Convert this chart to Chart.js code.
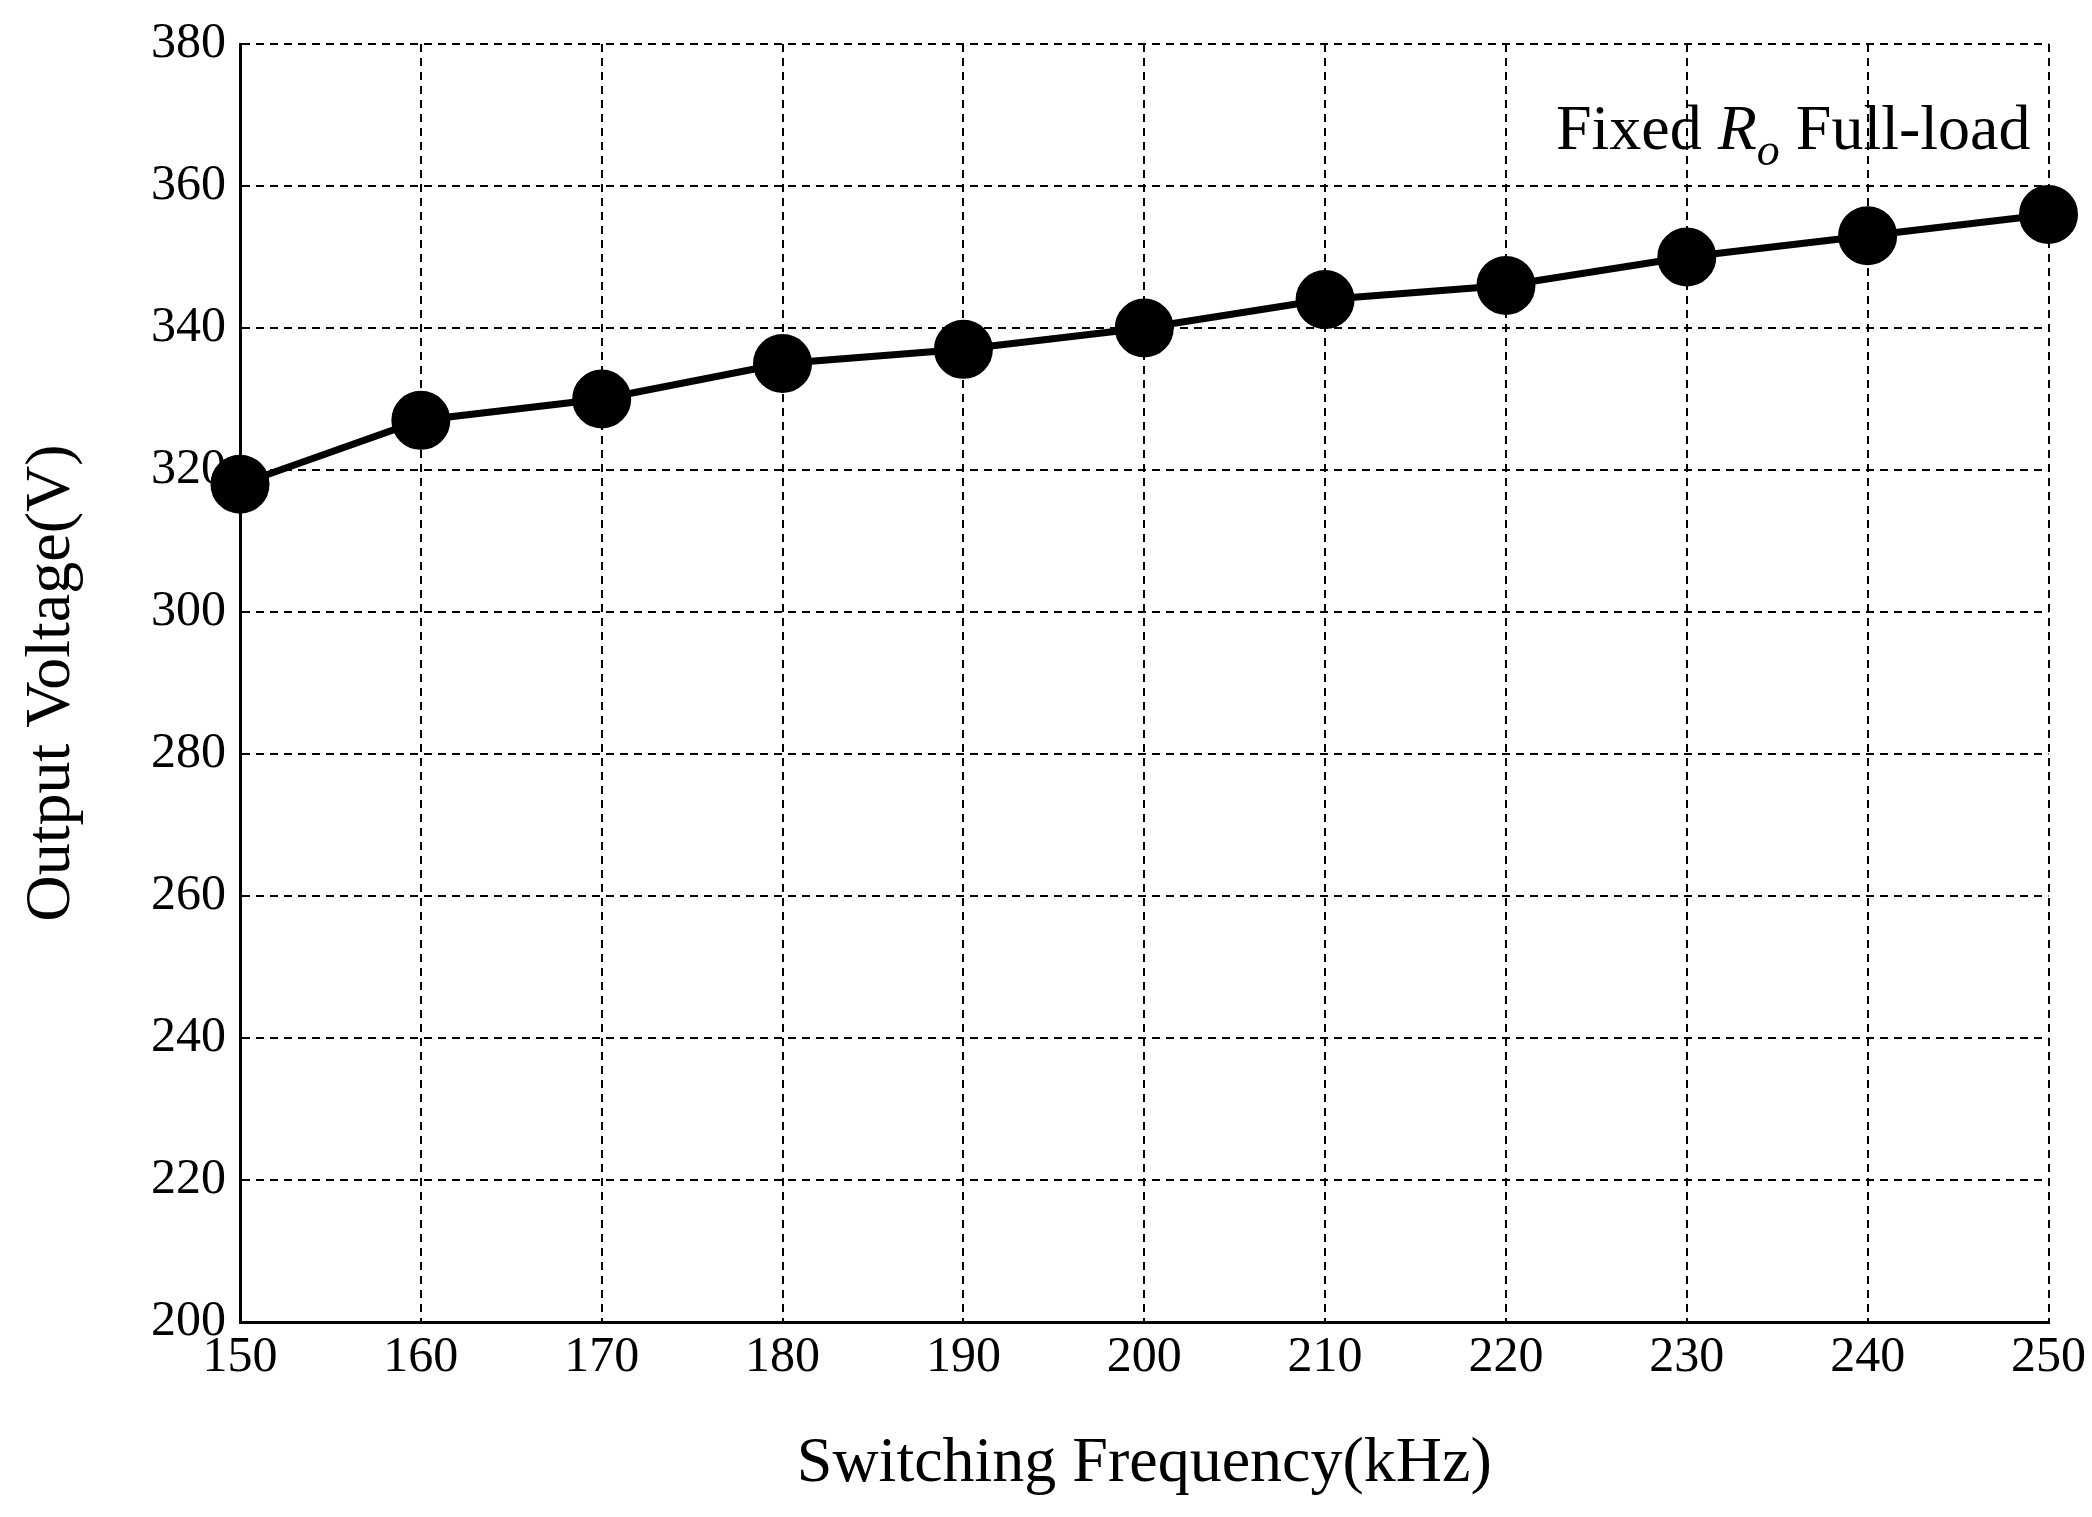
<!DOCTYPE html>
<html>
<head>
<meta charset="utf-8">
<script src="https://cdn.jsdelivr.net/npm/chart.js@4/dist/chart.umd.min.js"></script>
<style>
  html, body { margin: 0; padding: 0; background: #fff; }
  #wrap { width: 2092px; height: 1517px; }
</style>
</head>
<body>
<div id="wrap"><canvas id="c"></canvas></div>
<script>
const freqs = [150, 160, 170, 180, 190, 200, 210, 220, 230, 240, 250];
const voltages = [318, 327, 330, 335, 337, 340, 344, 346, 350, 353, 356];

const labelPlugin = {
    id: 'labelPlugin',
    afterDraw(chart) {
        const ctx = chart.ctx;
        const area = chart.chartArea;
        ctx.save();
        ctx.fillStyle = '#000';
        ctx.textBaseline = 'alphabetic';
        const y = area.top + 105;
        let x = area.right - 18;
        const parts = [
            { t: ' Full-load', f: '64px "Liberation Serif"', dy: 0 },
            { t: 'o', f: 'italic 46px "Liberation Serif"', dy: 16 },
            { t: 'R', f: 'italic 64px "Liberation Serif"', dy: 0 },
            { t: 'Fixed ', f: '64px "Liberation Serif"', dy: 0 }
        ];
        ctx.textAlign = 'right';
        parts.forEach(p => {
            ctx.font = p.f;
            ctx.fillText(p.t, x, y + p.dy);
            x -= ctx.measureText(p.t).width;
        });
        ctx.restore();
    }
};

new Chart(document.getElementById('c'), {
    type: 'line',
    data: {
        datasets: [{
            data: freqs.map((f, i) => ({ x: f, y: voltages[i] })),
            borderColor: '#000',
            backgroundColor: '#000',
            borderWidth: 7,
            pointRadius: 26,
            pointBackgroundColor: '#000',
            tension: 0,
            clip: false
        }]
    },
    options: {
        responsive: true,
        maintainAspectRatio: false,
        animation: false,
        events: [],
        layout: { padding: { left: 10, right: 43, top: 22, bottom: 10 } },
        plugins: { legend: { display: false }, tooltip: { enabled: false } },
        scales: {
            x: {
                type: 'linear',
                min: 150, max: 250,
                ticks: { stepSize: 10, color: '#000', font: { family: 'Liberation Serif', size: 50 }, padding: 6 },
                grid: { color: '#000', lineWidth: 2, tickLength: 0 },
                border: { color: '#000', width: 3, dash: [8, 6] },
                title: { display: true, text: 'Switching Frequency(kHz)', color: '#000', font: { family: 'Liberation Serif', size: 64 }, padding: { top: 4 } },
                afterFit(s) { s.height = 185; }
            },
            y: {
                min: 200, max: 380,
                ticks: { stepSize: 20, color: '#000', font: { family: 'Liberation Serif', size: 50 }, padding: 14 },
                grid: { color: '#000', lineWidth: 2, tickLength: 0 },
                border: { color: '#000', width: 3, dash: [8, 6] },
                title: { display: true, text: 'Output Voltage(V)', color: '#000', font: { family: 'Liberation Serif', size: 64 }, padding: { bottom: 2 } },
                afterFit(s) { s.width = 230; }
            }
        }
    },
    plugins: [labelPlugin]
});
</script>
</body>
</html>
